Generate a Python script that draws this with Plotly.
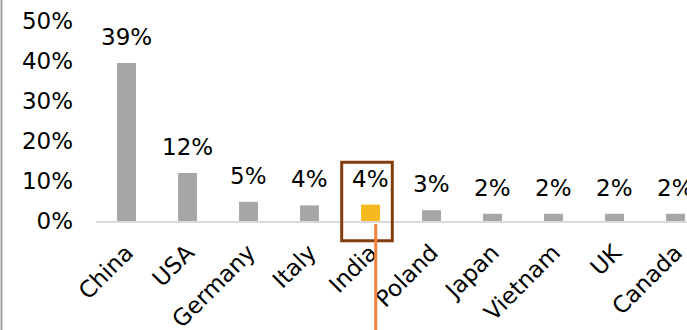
import plotly.graph_objects as go

countries = ["China", "USA", "Germany", "Italy", "India", "Poland", "Japan", "Vietnam", "UK", "Canada"]
shares = [39.5, 12.0, 4.8, 3.9, 4.1, 2.7, 1.8, 1.8, 1.8, 1.8]
labels = ["39%", "12%", "5%", "4%", "4%", "3%", "2%", "2%", "2%", "2%"]
highlight = "India"
y_ticks = [0, 10, 20, 30, 40, 50]
y_tick_text = ["0%", "10%", "20%", "30%", "40%", "50%"]

GRAY = "#A6A6A6"
GOLD = "#F6B91E"
FONT = "DejaVu Sans"
FS = 23

colors = [GOLD if c == highlight else GRAY for c in countries]

fig = go.Figure()
fig.add_trace(go.Bar(x=countries, y=shares, marker=dict(color=colors, line=dict(width=0)),
                     hoverinfo="skip"))

for c, v, t in zip(countries, shares, labels):
    fig.add_annotation(x=c, y=v, text=t, showarrow=False, yanchor="bottom",
                       yshift=11, font=dict(family=FONT, size=FS, color="#000000"))

W, H = 687, 330
L, T, B = 96, 21, 109
PW = W - L
PH = H - T - B
band = 61.0

def px(x):
    return (x - L) / PW

def py(y):
    return (H - B - y) / PH

# highlight box around India
fig.add_shape(type="rect", xref="paper", yref="paper",
              x0=px(341.7), x1=px(392.3), y0=py(240.7), y1=py(162.3),
              line=dict(color="#843C0C", width=3), fillcolor="rgba(0,0,0,0)")
# orange pointer line
fig.add_shape(type="line", xref="paper", yref="paper",
              x0=px(375.7), x1=px(375.7), y0=py(224), y1=py(332),
              line=dict(color="#F4823A", width=3))
# left border line
fig.add_shape(type="line", xref="paper", yref="paper",
              x0=px(1.5), x1=px(1.5), y0=py(-2), y1=py(332),
              line=dict(color="#A0A0A0", width=2))

fig.update_layout(
    width=W, height=H,
    margin=dict(l=L, r=0, t=T, b=B, pad=0, autoexpand=False),
    paper_bgcolor="white", plot_bgcolor="white",
    bargap=0.69,
    showlegend=False,
    font=dict(family=FONT, size=FS, color="#000000"),
    xaxis=dict(range=[-0.5, -0.5 + PW / band], showline=True, linecolor="#D9D9D9",
               linewidth=2, showgrid=False, ticks="", tickangle=-45,
               ticklabelstandoff=7, automargin=False,
               tickfont=dict(family=FONT, size=FS, color="#000000"),
               fixedrange=True),
    yaxis=dict(range=[0, 50], tickmode="array", tickvals=y_ticks, ticktext=y_tick_text,
               showgrid=False, zeroline=False, showline=False, ticks="",
               ticklabelstandoff=22, automargin=False,
               tickfont=dict(family=FONT, size=FS, color="#000000"),
               fixedrange=True),
)

fig.write_html("out.html", config={"displayModeBar": False})
